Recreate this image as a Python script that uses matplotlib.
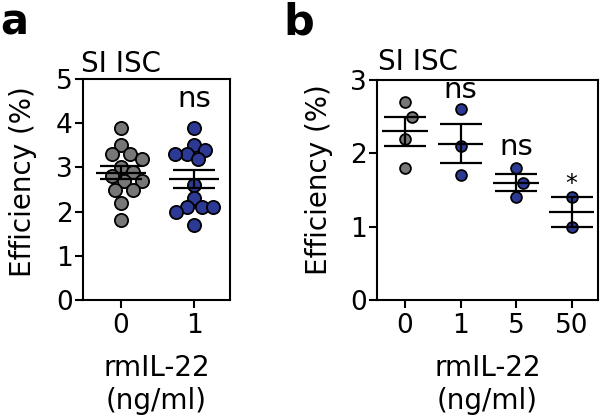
import numpy as np
import matplotlib
matplotlib.use("Agg")
import matplotlib.pyplot as plt

# --- data ---
a_groups = ["0", "1"]
a_ctrl = [3.9, 3.5, 3.3, 3.3, 3.2, 3.0, 2.9, 2.8, 2.7, 2.7, 2.5, 2.5, 2.2, 1.8]
a_il22 = [3.9, 3.5, 3.4, 3.3, 3.3, 3.2, 2.6, 2.3, 2.1, 2.1, 2.1, 2.0, 1.7]

b_groups = ["0", "1", "5", "50"]
b_vals = [
    [2.7, 2.5, 2.2, 1.8],
    [2.6, 2.1, 1.7],
    [1.8, 1.6, 1.4],
    [1.4, 1.0],
]
b_sig = ["", "ns", "ns", "*"]

GREY = "#777777"
BLUE = "#2c3a96"


def swarm(vals, ypx, xpx, d):
    # simple beeswarm: nearest free offset from the centre (in pixels)
    placed, offs = [], []
    for v in vals:
        y = v * ypx
        best = None
        for k in np.arange(0, 100, 0.5):
            for s in ((0,) if k == 0 else (k, -k)):
                if all((s - px) ** 2 + (y - py) ** 2 >= d * d for px, py in placed):
                    best = s
                    break
            if best is not None:
                break
        placed.append((best, y))
        offs.append(best / xpx)
    return np.array(offs)


def px_scale(fig, ax):
    bb = ax.get_position()
    w = bb.width * fig.get_figwidth() * fig.dpi
    h = bb.height * fig.get_figheight() * fig.dpi
    x0, x1 = ax.get_xlim()
    y0, y1 = ax.get_ylim()
    return w / (x1 - x0), h / (y1 - y0)


def group(ax, fig, x, vals, color, ms, d, half, cap):
    vals = np.asarray(vals)
    xs, ys = px_scale(fig, ax)
    offs = swarm(vals, ys, xs, d)
    ax.plot(x + offs, vals, "o", ms=ms, mfc=color, mec="black", mew=1.3,
            zorder=2, clip_on=False)
    m = vals.mean()
    sem = vals.std(ddof=1) / np.sqrt(len(vals))
    ax.hlines(m, x - half, x + half, color="black", lw=1.6, zorder=3)
    ax.errorbar(x, m, yerr=sem, fmt="none", ecolor="black", elinewidth=1.6,
                capsize=cap, capthick=1.6, zorder=3)


def style(ax):
    for s in ax.spines.values():
        s.set_linewidth(1.5)
    ax.tick_params(width=1.5, length=5.5, labelsize=19, pad=2)
    ax.tick_params(axis="x", pad=4)


plt.rcParams["font.family"] = ["DejaVu Sans"]
fig = plt.figure(figsize=(6, 4.2), dpi=100)

# ---- panel a ----
axa = fig.add_axes([0.1383, 0.2857, 0.245, 0.526])
axa.set_xlim(-0.52, 1.49)
axa.set_ylim(0, 5)
axa.set_yticks(range(0, 6))
axa.set_xticks([0, 1])
axa.set_xticklabels(a_groups)
style(axa)
group(axa, fig, 0, a_ctrl, GREY, 9.5, 12.5, 0.34, 15)
group(axa, fig, 1, a_il22, BLUE, 9.5, 11.5, 0.34, 15)
axa.text(1, 4.37, "ns", ha="center", va="baseline", fontsize=21)
axa.text(-0.014, 1.032, "SI ISC", transform=axa.transAxes, ha="left",
         va="baseline", fontsize=20)
axa.set_ylabel("Efficiency (%)", fontsize=20)
axa.yaxis.set_label_coords(-0.313, 0.534)
axa.set_xlabel("rmIL-22\n(ng/ml)", fontsize=20, labelpad=11)

# ---- panel b ----
axb = fig.add_axes([0.6288, 0.2857, 0.3674, 0.5238])
axb.set_xlim(-0.5, 3.47)
axb.set_ylim(0, 3)
axb.set_yticks(range(0, 4))
axb.set_xticks(range(len(b_groups)))
axb.set_xticklabels(b_groups)
style(axb)
for i, vals in enumerate(b_vals):
    group(axb, fig, i, vals, GREY if i == 0 else BLUE, 7.8, 16, 0.41, 15)
    if b_sig[i] == "*":
        axb.text(i, 1.49, "*", ha="center", va="baseline", fontsize=17)
    elif b_sig[i]:
        yy = 2.76 if i == 1 else 1.98
        axb.text(i, yy, b_sig[i], ha="center", va="baseline", fontsize=21)
axb.text(0.003, 1.045, "SI ISC", transform=axb.transAxes, ha="left",
         va="baseline", fontsize=20)
axb.set_ylabel("Efficiency (%)", fontsize=20)
axb.yaxis.set_label_coords(-0.201, 0.545)
axb.set_xlabel("rmIL-22\n(ng/ml)", fontsize=20, labelpad=11)

fig.text(0.0, 0.917, "a", fontsize=30, fontweight="bold", ha="left", va="baseline")
fig.text(0.472, 0.917, "b", fontsize=31, fontweight="bold", ha="left", va="baseline")

fig.savefig("out.png", dpi=100)
